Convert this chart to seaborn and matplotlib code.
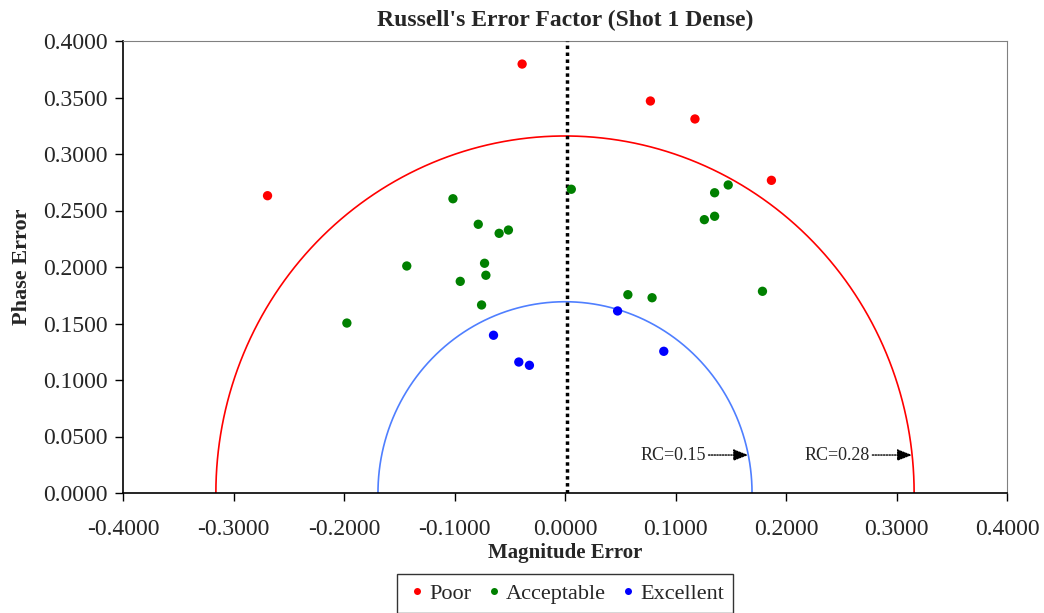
import numpy as np
import pandas as pd
import matplotlib
matplotlib.use("Agg")
import matplotlib.pyplot as plt
import seaborn as sns

# valores
poor_mag = [-0.0388, 0.0773, 0.1176, 0.1868, -0.2692]
poor_phase = [0.3796, 0.3469, 0.3310, 0.2767, 0.2631]

acc_mag = [0.0057, -0.1014, -0.0785, -0.0512, -0.0596, 0.1354, 0.1477, 0.1354, 0.1261,
           -0.1432, -0.0728, -0.0716, -0.0948, -0.0755, -0.1974, 0.0569, 0.0788, 0.1787]
acc_phase = [0.2688, 0.2604, 0.2378, 0.2327, 0.2298, 0.2657, 0.2726, 0.2449, 0.2419,
             0.2009, 0.2033, 0.1927, 0.1873, 0.1664, 0.1504, 0.1755, 0.1728, 0.1785]

exc_mag = [-0.0647, -0.0418, -0.0322, 0.0476, 0.0894]
exc_phase = [0.1396, 0.1159, 0.1130, 0.1611, 0.1254]

categorias = ["Poor", "Acceptable", "Excellent"]
cores = {"Poor": "#FF0000", "Acceptable": "#008000", "Excellent": "#0000FF"}

rc_values = [0.15, 0.28]
rc_colors = ["#4F7FFF", "#FF0000"]
x_ticks = [-0.4, -0.3, -0.2, -0.1, 0.0, 0.1, 0.2, 0.3, 0.4]
y_ticks = [0.0, 0.05, 0.10, 0.15, 0.20, 0.25, 0.30, 0.35, 0.40]


def main():
    df = pd.DataFrame({
        "mag": poor_mag + acc_mag + exc_mag,
        "phase": poor_phase + acc_phase + exc_phase,
        "cat": ["Poor"] * len(poor_mag) + ["Acceptable"] * len(acc_mag) + ["Excellent"] * len(exc_mag),
    })

    sns.set_style("ticks")
    plt.rcParams["font.family"] = ["Liberation Serif", "DejaVu Serif"]

    fig = plt.figure(figsize=(10.44, 6.13), dpi=100)
    ax = fig.add_axes([123 / 1044, 1 - 493 / 613, 884 / 1044, 452 / 613])

    # circulos de Russell: raio = RC * sqrt(4/pi)
    theta = np.linspace(0, np.pi, 400)
    y_seta = 0.0336
    for rc, cor in zip(rc_values, rc_colors):
        r = rc * np.sqrt(4 / np.pi)
        ax.plot(r * np.cos(theta), r * np.sin(theta), color=cor, lw=1.2, zorder=2)
        tip = np.sqrt(r ** 2 - y_seta ** 2)
        ax.annotate("", xy=(tip, y_seta), xytext=(tip - 0.036, y_seta),
                    arrowprops=dict(arrowstyle="-|>,head_length=0.9,head_width=0.35",
                                    ls=(0, (1, 1)), color="black", lw=1, shrinkA=0, shrinkB=0),
                    zorder=4)
        ax.text(tip - 0.038, y_seta, f"RC={rc:.2f}", ha="right", va="center", fontsize=13)

    ax.axvline(0.0015, color="black", ls=(0, (1, 1)), lw=2.5, zorder=3)

    sns.scatterplot(data=df, x="mag", y="phase", hue="cat", hue_order=categorias,
                    palette=cores, s=45, edgecolor="none", ax=ax, zorder=5)

    ax.set_xlim(-0.4, 0.4)
    ax.set_ylim(0, 0.4)
    ax.set_xticks(x_ticks)
    ax.set_yticks(y_ticks)
    ax.set_xticklabels([f"{v:.4f}" for v in x_ticks], fontsize=17)
    ax.set_yticklabels([f"{v:.4f}" for v in y_ticks], fontsize=17)
    ax.tick_params(direction="out", length=6, width=1, color="black")
    ax.tick_params(axis="x", pad=13)
    ax.tick_params(axis="y", pad=5)

    for lado in ["top", "right"]:
        ax.spines[lado].set_color("#808080")
    for lado in ["left", "bottom"]:
        ax.spines[lado].set_color("black")
        ax.spines[lado].set_linewidth(1.2)

    ax.set_title("Russell's Error Factor (Shot 1 Dense)", fontsize=17, fontweight="bold", pad=11)
    ax.set_xlabel("Magnitude Error", fontsize=15, fontweight="bold", labelpad=2)
    ax.set_ylabel("Phase Error", fontsize=16, fontweight="bold", labelpad=8)

    leg = ax.legend(loc="upper center", bbox_to_anchor=(0.5, -0.179), ncol=3,
                    fontsize=16, frameon=True, fancybox=False, markerscale=0.75,
                    handletextpad=0.05, columnspacing=0.5, borderpad=0.42,
                    handlelength=1.0, borderaxespad=0)
    leg.get_frame().set_edgecolor("black")
    leg.get_frame().set_linewidth(1)

    fig.savefig("out.png", dpi=100)
    plt.close(fig)


if __name__ == "__main__":
    main()
